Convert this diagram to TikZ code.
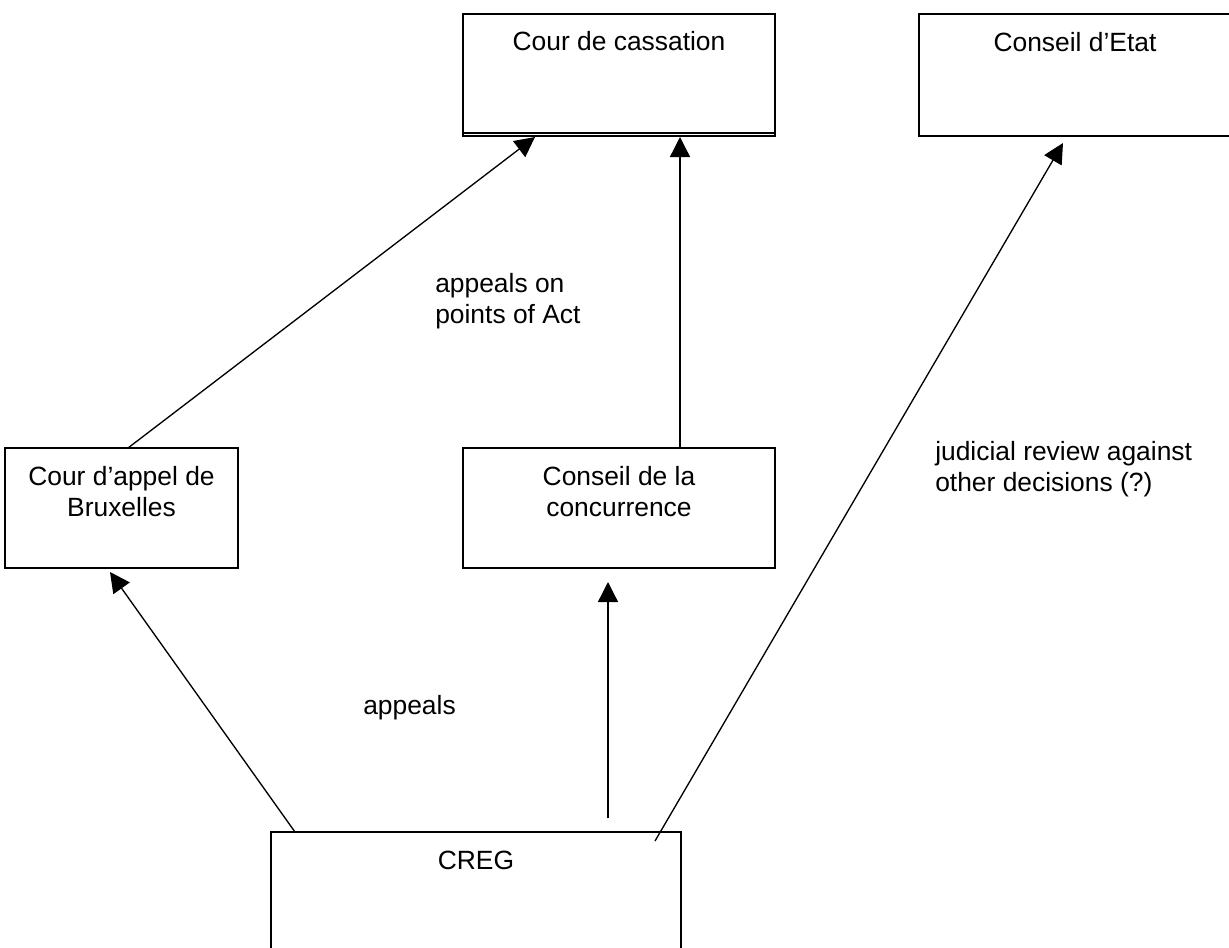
\documentclass[tikz,border=0pt]{standalone}
\usepackage{fontspec}
\setmainfont{Liberation Sans}
\usetikzlibrary{arrows.meta,fit}
\begin{document}
\begin{tikzpicture}[x=0.75pt,y=-0.75pt,
  box/.style={draw=black,line width=1.2pt,inner sep=0pt,rectangle},
  lbl/.style={font=\fontsize{19.8}{22.9}\selectfont,inner sep=0pt,anchor=base},
  lbll/.style={lbl,anchor=base west,align=left},
  arr/.style={line width=1pt,-{Triangle[length=15pt,width=15pt]}},
  ln/.style={line width=1pt}]
\useasboundingbox (0,0) rectangle (1229,947);
\clip (0,0) rectangle (1229,947);
% boxes
\node[box,fit={(463,14) (775,136)}] (cass) {};
\node[box,fit={(919,14) (1234,136)}] (etat) {};
\node[box,fit={(5,448) (238,568)}] (appel) {};
\node[box,fit={(463,448) (775,568)}] (conc) {};
\node[box,fit={(271,832) (681,960)}] (creg) {};
\draw[line width=1.2pt] (cass.south west) ++(0,-4) coordinate (cdl) -- (cdl -| cass.east);
% box texts (base anchor = baseline of last line)
\node[lbl] (cassT) at (619,50) {Cour de cassation};
\node[lbl] (etatT) at (1075,51) {Conseil d’Etat};
\node[lbl,align=center] (appelT) at (121.5,516) {Cour d’appel de\\Bruxelles};
\node[lbl,align=center] (concT) at (619,516) {Conseil de la\\concurrence};
\node[lbl] (cregT) at (476,869) {CREG};
% free labels
\node[lbll] (lab1) at (435,323) {appeals on\\points of Act};
\node[lbll] (lab2) at (935,491) {judicial review against\\other decisions (?)};
\node[lbll] (lab3) at (363,714) {appeals};
% connector end points
\coordinate (a1s) at (128,448);
\coordinate (a1e) at (535,137);
\coordinate (a2s) at (680,448);
\coordinate (a2e) at (680,137);
\coordinate (a3s) at (295,832);
\coordinate (a3e) at (110,572);
\coordinate (a4s) at (608,818);
\coordinate (a4e) at (608,582);
\coordinate (a5s) at (655,841);
\coordinate (a5e) at (1063,143);
% connectors
\draw[arr] (a1s) -- (a1e);
\draw[arr] (a2s) -- (a2e);
\draw[arr] (a3s) -- (a3e);
\draw[arr] (a4s) -- (a4e);
\draw[arr] (a5s) -- (a5e);
\end{tikzpicture}
\end{document}
